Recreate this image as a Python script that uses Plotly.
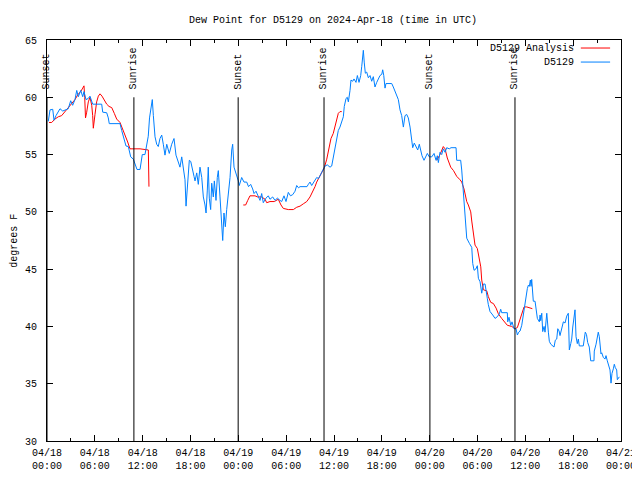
import plotly.graph_objects as go

# ---- data (hours since 2024-04-18 00:00 UTC, dew point in degrees F) ----
obs_hours = [0.16, 0.38, 0.72, 0.88, 1.13, 1.42, 1.63, 1.97, 2.26, 2.67, 2.97, 3.22, 3.51, 3.73, 3.93, 4.23, 4.48, 4.64, 4.89, 5.18,
             5.39, 5.61, 5.73, 6.86, 6.99, 7.49, 7.69, 7.81, 9.16, 9.37, 9.57, 9.78, 9.91, 10.20, 10.50, 10.83, 11.04, 11.29, 11.67, 11.95,
             12.29, 12.50, 12.70, 12.86, 13.05, 13.21, 13.34, 13.55, 13.76, 13.96, 14.17, 14.39, 14.59, 14.80, 15.02, 15.34, 15.64, 15.93, 16.18, 16.47,
             16.68, 16.90, 17.10, 17.31, 17.44, 17.60, 17.85, 18.03, 18.28, 18.44, 18.57, 18.78, 18.98, 19.19, 19.41, 19.61, 19.82, 19.95, 20.11, 20.23,
             20.36, 20.53, 20.66, 20.86, 20.99, 21.20, 21.36, 21.49, 21.70, 21.91, 22.04, 22.20, 22.37, 22.54, 22.74, 22.96, 23.17, 23.29, 23.46, 23.71,
             24.00, 24.12, 24.42, 24.71, 25.05, 25.28, 25.55, 25.80, 25.97, 26.22, 26.51, 26.72, 26.93, 27.13, 27.47, 27.76, 27.97, 28.31, 28.60, 28.89,
             29.23, 29.44, 29.73, 29.98, 30.27, 30.54, 30.82, 31.11, 31.32, 31.55, 31.74, 32.61, 32.78, 32.99, 33.20, 33.49, 33.83, 34.06, 34.33, 34.58,
             34.87, 35.16, 35.50, 35.71, 35.91, 36.13, 36.34, 36.54, 36.75, 36.97, 37.17, 37.29, 37.51, 37.67, 37.80, 38.01, 38.13, 38.35, 38.51, 38.76,
             38.93, 39.14, 39.35, 39.48, 39.60, 39.68, 39.80, 39.93, 40.10, 40.31, 40.52, 40.73, 40.93, 41.14, 41.36, 41.56, 41.77, 41.99, 42.11, 42.24,
             42.40, 42.52, 43.24, 43.44, 43.65, 43.87, 44.07, 44.28, 44.49, 44.70, 44.91, 45.12, 45.32, 45.54, 45.75, 45.87, 46.07, 46.29, 46.50, 46.70,
             46.88, 47.04, 47.29, 47.54, 47.71, 47.95, 48.26, 48.55, 48.80, 48.96, 49.09, 49.30, 49.51, 49.71, 49.93, 50.14, 50.46, 50.68, 51.31, 51.39,
             51.89, 52.02, 52.22, 52.35, 52.50, 52.65, 52.98, 53.28, 53.40, 53.57, 53.78, 53.98, 54.11, 54.32, 54.53, 54.74, 54.95, 55.07, 55.23, 55.36,
             55.57, 55.91, 56.20, 56.49, 56.74, 56.91, 57.03, 57.74, 57.79, 57.95, 58.17, 58.33, 58.58, 58.83, 59.00, 59.17, 59.34, 59.55, 59.75, 59.96,
             60.09, 60.25, 60.38, 60.50, 60.63, 60.72, 60.80, 60.93, 61.00, 61.22, 61.34, 61.51, 61.76, 61.85, 61.93, 62.06, 62.18, 62.35, 62.47, 62.69,
             62.89, 63.01, 63.19, 63.44, 63.60, 63.76, 63.94, 64.07, 64.23, 64.35, 64.57, 64.77, 64.98, 65.19, 65.39, 65.52, 65.70, 65.82, 65.95, 66.11,
             66.23, 66.36, 66.52, 66.65, 66.77, 67.27, 67.36, 67.52, 67.67, 67.82, 68.02, 68.20, 68.61, 68.65, 68.87, 69.03, 69.15, 69.28, 69.37, 69.49,
             69.58, 69.78, 69.99, 70.12, 70.28, 70.41, 70.62, 70.75, 70.87, 71.04, 71.16, 71.29, 71.46, 71.54, 71.66, 71.79]
obs_dewpt = [57.9, 58.9, 58.95, 58.0, 58.4, 58.7, 59.0, 58.8, 58.9, 59.0, 59.7, 59.3, 59.8, 60.6, 60.05, 60.6, 60.05, 60.5, 59.8, 59.9,
             60.1, 59.6, 59.4, 59.4, 58.7, 58.65, 58.2, 57.7, 57.7, 57.1, 56.55, 56.2, 55.75, 55.7, 54.8, 54.6, 54.1, 53.7, 53.7, 55.0,
             55.0, 55.8, 56.6, 58.2, 59.0, 59.8, 58.4, 56.55, 55.9, 55.7, 56.4, 56.7, 55.9, 54.95, 55.9, 55.1, 55.9, 56.4, 54.95, 54.2,
             53.9, 54.8, 53.9, 52.8, 50.5, 52.5, 54.5, 54.4, 53.4, 53.1, 52.7, 53.4, 52.4, 53.9, 53.0, 51.3, 50.6, 49.9, 51.9, 53.9,
             51.2, 50.2, 52.5, 51.3, 52.7, 51.0, 53.0, 53.6, 51.3, 48.4, 47.5, 49.9, 48.7, 50.2, 51.3, 53.0, 55.4, 55.9, 53.9, 53.4,
             52.7, 52.3, 53.0, 52.6, 52.6, 52.2, 52.4, 52.0, 51.6, 51.8, 51.4, 51.0, 51.6, 50.8, 51.2, 51.4, 51.1, 51.3, 51.0, 51.2,
             51.0, 50.9, 51.4, 50.9, 51.7, 51.4, 51.5, 51.8, 52.3, 52.1, 52.2, 52.2, 52.4, 52.6, 52.3, 52.6, 53.0, 52.9, 53.3, 53.7,
             54.0, 54.1, 53.9, 54.0, 54.7, 55.7, 56.2, 57.1, 57.4, 58.0, 58.3, 59.2, 59.9, 60.0, 59.6, 60.6, 61.5, 61.4, 61.6, 61.3,
             61.9, 61.3, 61.9, 62.7, 63.5, 64.1, 63.0, 62.1, 62.2, 61.7, 61.9, 61.4, 61.8, 60.9, 61.3, 61.6, 61.9, 62.0, 62.4, 61.9,
             60.8, 61.2, 61.2, 60.9, 60.5, 60.2, 59.8, 58.9, 58.4, 57.4, 58.4, 58.5, 58.2, 57.4, 56.3, 55.6, 56.0, 55.7, 55.4, 55.9,
             55.3, 54.9, 54.5, 54.9, 55.1, 54.8, 54.8, 55.1, 54.5, 54.9, 54.3, 55.2, 55.0, 55.5, 55.2, 55.6, 55.5, 55.6, 55.6, 54.5,
             54.5, 53.65, 51.6, 50.5, 48.6, 47.7, 47.25, 46.9, 45.5, 44.9, 45.0, 45.3, 44.2, 43.9, 42.9, 43.7, 43.7, 43.0, 42.45, 41.9,
             41.3, 41.0, 40.7, 40.85, 41.1, 41.5, 41.2, 41.2, 40.4, 40.8, 40.1, 40.4, 39.8, 39.8, 39.25, 39.5, 39.6, 40.1, 41.15, 41.9,
             42.6, 43.3, 43.6, 43.5, 44.05, 43.5, 44.1, 43.2, 42.2, 42.2, 41.45, 40.7, 40.4, 41.0, 40.5, 41.15, 39.55, 40.0, 39.5, 41.15,
             39.5, 38.7, 38.45, 38.3, 38.2, 38.8, 38.9, 39.8, 39.6, 39.2, 39.95, 40.4, 40.3, 40.9, 41.15, 37.95, 38.5, 38.9, 39.95, 40.7,
             41.45, 39.1, 38.5, 38.9, 38.3, 38.3, 38.9, 39.5, 39.3, 38.6, 38.2, 37.0, 37.0, 37.85, 38.45, 39.2, 39.5, 39.1, 38.3, 37.6,
             37.7, 37.3, 37.15, 37.45, 37.0, 36.6, 36.2, 35.05, 35.9, 36.3, 36.7, 36.4, 36.2, 35.35, 35.5, 35.6]

ana1_hours = [0.25, 0.59, 1.00, 1.42, 1.84, 2.26, 2.67, 3.10, 3.51, 3.93, 4.23, 4.48, 4.64, 4.73, 4.83, 4.98, 5.18, 5.39, 5.61, 5.73,
              5.81, 6.02, 6.23, 6.44, 6.65, 6.90, 7.19, 7.49, 7.78, 8.12, 8.44, 8.74, 9.16, 9.47, 9.78, 10.12, 10.41, 11.67, 12.71, 12.79]
ana1_dewpt = [57.8, 57.8, 58.1, 58.3, 58.4, 58.75, 59.1, 59.4, 59.8, 60.3, 60.5, 60.8, 61.0, 60.0, 58.2, 58.7, 59.6, 60.0, 59.3, 58.4,
              57.3, 58.5, 59.6, 60.1, 60.3, 60.1, 59.7, 59.4, 59.2, 59.1, 58.6, 58.1, 57.8, 57.3, 56.7, 56.1, 55.5, 55.5, 55.4, 52.2]
ana2_hours = [24.62, 24.92, 25.18, 25.46, 26.09, 26.43, 26.93, 27.35, 27.56, 27.97, 28.51, 29.01, 29.35, 29.64, 30.27, 30.90, 31.32, 31.74,
              32.15, 32.58, 32.99, 33.28, 33.62, 33.83, 34.25, 34.53, 34.78, 35.09, 35.37, 35.62, 35.91, 36.13, 36.34, 36.54, 36.75, 36.97]
ana2_dewpt = [50.6, 50.6, 51.0, 51.4, 51.4, 51.3, 51.3, 51.1, 50.8, 50.9, 50.9, 51.1, 50.6, 50.3, 50.2, 50.2, 50.4, 50.5,
              50.7, 50.9, 51.3, 51.7, 52.2, 52.6, 53.1, 53.5, 53.85, 54.6, 55.6, 56.4, 56.85, 57.4, 58.0, 58.6, 58.75, 58.75]
ana3_hours = [48.89, 49.30, 49.71, 49.93, 50.21, 50.64, 50.99, 51.39, 51.81, 52.02, 52.31, 52.43, 52.65, 52.85, 53.15, 53.28, 53.48, 53.69,
              53.98, 54.23, 54.41, 54.53, 54.74, 55.16, 55.36, 55.66, 55.99, 56.33, 56.62, 57.03, 57.45, 57.74, 58.29, 58.71, 59.00, 59.34,
              59.55, 59.84, 60.18, 60.59, 60.88]
ana3_dewpt = [54.5, 55.0, 55.7, 55.5, 54.7, 53.9, 53.6, 53.1, 52.8, 52.6, 52.0, 51.6, 50.9, 50.6, 50.0, 49.2, 48.3, 47.1,
              46.8, 45.95, 45.2, 44.05, 43.2, 43.1, 42.6, 42.1, 42.0, 41.6, 41.1, 40.7, 40.3, 40.1, 40.0, 39.8, 39.9, 40.7,
              41.1, 41.7, 41.7, 41.6, 41.55]

sun_hours = [0.0, 10.9, 23.98, 34.75, 48.03, 58.7]
sun_labels = ["Sunset", "Sunrise", "Sunset", "Sunrise", "Sunset", "Sunrise"]

tick_hours = [0, 6, 12, 18, 24, 30, 36, 42, 48, 54, 60, 66, 72]
tick_dates = ["04/18", "04/18", "04/18", "04/18", "04/19", "04/19", "04/19", "04/19", "04/20", "04/20", "04/20", "04/20", "04/21"]
tick_times = ["00:00", "06:00", "12:00", "18:00", "00:00", "06:00", "12:00", "18:00", "00:00", "06:00", "12:00", "18:00", "00:00"]

RED = "#ff0000"
BLUE = "#0080ff"
FONT = "Liberation Mono"

ana_x = ana1_hours + [None] + ana2_hours + [None] + ana3_hours
ana_y = ana1_dewpt + [None] + ana2_dewpt + [None] + ana3_dewpt

fig = go.Figure()
fig.add_trace(go.Scatter(x=ana_x, y=ana_y, mode="lines", name="D5129 Analysis",
                         line=dict(color=RED, width=1), connectgaps=False, showlegend=False))
fig.add_trace(go.Scatter(x=obs_hours, y=obs_dewpt, mode="lines", name="D5129",
                         line=dict(color=BLUE, width=1), showlegend=False))

shapes = []
annotations = []
for h, lab in zip(sun_hours, sun_labels):
    shapes.append(dict(type="line", xref="x", yref="y", x0=h, x1=h, y0=30, y1=60,
                       line=dict(color="black", width=1)))
    annotations.append(dict(x=h, y=60.5, xref="x", yref="y", text=lab, textangle=-90,
                            showarrow=False, xanchor="center", yanchor="bottom",
                            font=dict(family=FONT, size=10, color="black")))

# gnuplot-style key (text right-aligned, sample line to the right)
key_entries = [("D5129 Analysis", RED, 0.980), ("D5129", BLUE, 0.945)]
for text, col, yp in key_entries:
    annotations.append(dict(x=0.922, y=yp, xref="paper", yref="paper", text=text, showarrow=False,
                            xanchor="right", yanchor="middle",
                            font=dict(family=FONT, size=10, color="black")))
    shapes.append(dict(type="line", xref="paper", yref="paper", x0=0.930, x1=0.981, y0=yp, y1=yp,
                       line=dict(color=col, width=1)))

annotations.append(dict(x=-0.057, y=0.5, xref="paper", yref="paper", text="degrees F", textangle=-90,
                        showarrow=False, xanchor="center", yanchor="middle",
                        font=dict(family=FONT, size=10, color="black")))

# The page body has an 8px margin; margins are chosen so the plot area lands where
# the reference has it.
fig.update_layout(
    width=632, height=464,
    margin=dict(l=39, r=19, t=32, b=31, autoexpand=False),
    paper_bgcolor="white", plot_bgcolor="white",
    font=dict(family=FONT, size=10, color="black"),
    title=dict(text="Dew Point for D5129 on 2024-Apr-18 (time in UTC)", x=325 / 632, xanchor="center",
               y=1 - 11 / 464, yanchor="middle", font=dict(family=FONT, size=10, color="black")),
    shapes=shapes, annotations=annotations,
    showlegend=False,
)
fig.update_xaxes(range=[0, 72], tickmode="array", tickvals=tick_hours,
                 ticktext=[d + "<br>" + t for d, t in zip(tick_dates, tick_times)],
                 ticks="inside", ticklen=6, tickcolor="black", showline=True, linecolor="black",
                 linewidth=1, mirror="allticks", showgrid=False, zeroline=False, automargin=False,
                 ticklabelstandoff=2, ticklabeloverflow="allow",
                 minor=dict(tickmode="linear", tick0=0, dtick=3, ticks="inside", ticklen=3,
                            tickcolor="black", showgrid=False))
fig.update_yaxes(range=[30, 65], tickmode="linear", tick0=30, dtick=5,
                 ticks="inside", ticklen=6, tickcolor="black", showline=True, linecolor="black",
                 linewidth=1, mirror="allticks", showgrid=False, zeroline=False, automargin=False,
                 ticklabelstandoff=7)

fig.write_html("out.html")
